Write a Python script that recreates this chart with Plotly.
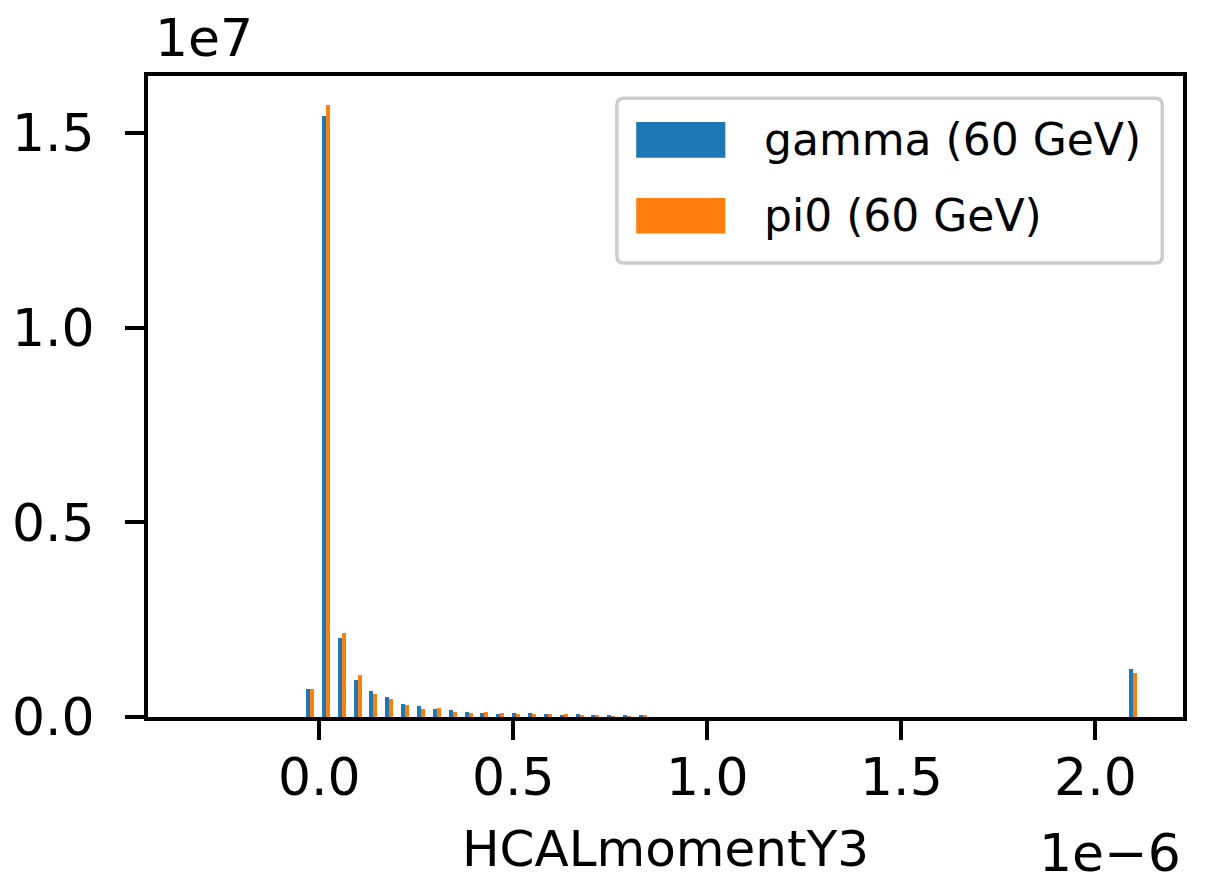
import plotly.graph_objects as go

# Histogram of HCALmomentY3 for two particle samples (bin centres in units of 1e-6)
bin_centers = [-0.024, 0.017, 0.058, 0.099, 0.139, 0.180, 0.221, 0.262, 0.303,
               0.344, 0.385, 0.425, 0.466, 0.507, 0.548, 0.589, 0.630, 0.671,
               0.711, 0.752, 0.793, 0.834, 2.096]

gamma_counts = [730000, 15450000, 2040000, 960000, 680000, 520000, 340000, 270000,
                210000, 190000, 140000, 110000, 86000, 110000, 110000, 86000,
                60000, 86000, 60000, 50000, 50000, 50000, 1240000]

pi0_counts = [730000, 15730000, 2170000, 1090000, 600000, 450000, 320000, 210000,
              240000, 140000, 110000, 140000, 110000, 86000, 86000, 86000,
              86000, 60000, 60000, 20000, 20000, 50000, 1140000]

series_names = ["gamma (60 GeV)", "pi0 (60 GeV)"]
series_colors = ["#1f77b4", "#ff7f0e"]

x_tick_labels = ["0.0", "0.5", "1.0", "1.5", "2.0"]
y_tick_labels = ["0.0", "0.5", "1.0", "1.5"]

X_SCALE = 1e-6
Y_SCALE = 1e7

x_vals = [c * X_SCALE for c in bin_centers]
bar_w = 0.0103 * X_SCALE  # each sample's bar, side by side in a bin

FONT = "DejaVu Sans"

fig = go.Figure()
for i, (name, counts, color) in enumerate(zip(series_names,
                                               [gamma_counts, pi0_counts],
                                               series_colors)):
    fig.add_trace(go.Bar(
        x=x_vals, y=counts, name=name,
        width=[bar_w] * len(x_vals),
        offset=(i - 1) * bar_w,
        marker=dict(color=color, line=dict(width=0)),
        showlegend=False,
    ))

L, R, T, B = 148, 31, 76, 161
W, H = 1214, 878

axis_common = dict(
    showline=True, linecolor="black", linewidth=4, mirror=True,
    ticks="outside", ticklen=19, tickwidth=4, tickcolor="black",
    showgrid=False, zeroline=False, automargin=False,
    tickfont=dict(family=FONT, size=52, color="black"),
)

fig.update_layout(
    width=W, height=H,
    margin=dict(l=L, r=R, t=T, b=B, pad=0),
    paper_bgcolor="white", plot_bgcolor="white",
    bargap=0, barmode="overlay",
    xaxis=dict(
        range=[-0.4413 * X_SCALE, 2.2257 * X_SCALE],
        tickvals=[float(t) * X_SCALE for t in x_tick_labels],
        ticktext=x_tick_labels,
        ticklabelstandoff=-7,
        title=dict(text="HCALmomentY3", standoff=43,
                   font=dict(family=FONT, size=50, color="black")),
        **axis_common,
    ),
    yaxis=dict(
        range=[0, 1.647 * Y_SCALE],
        tickvals=[float(t) * Y_SCALE for t in y_tick_labels],
        ticktext=y_tick_labels,
        ticklabelstandoff=20,
        **axis_common,
    ),
)

# axis offset (scale) labels
fig.add_annotation(text="1e7", xref="paper", yref="paper", x=0.0045, y=1.009,
                   xanchor="left", yanchor="bottom", showarrow=False,
                   font=dict(family=FONT, size=52, color="black"))
fig.add_annotation(text="1e\u22126", xref="paper", yref="paper", x=1.0, y=-0.2116,
                   xanchor="right", yanchor="middle", valign="middle",
                   height=46, showarrow=False,
                   font=dict(family=FONT, size=52, color="black"))

# legend frame with rounded corners
x0, x1, y0, y1 = 0.4530, 0.9800, 0.7084, 0.9651
rx, ry = 0.0068, 0.0109
frame = (f"M {x0+rx},{y0} L {x1-rx},{y0} Q {x1},{y0} {x1},{y0+ry} "
         f"L {x1},{y1-ry} Q {x1},{y1} {x1-rx},{y1} L {x0+rx},{y1} "
         f"Q {x0},{y1} {x0},{y1-ry} L {x0},{y0+ry} Q {x0},{y0} {x0+rx},{y0} Z")
fig.add_shape(type="path", path=frame, xref="paper", yref="paper",
              fillcolor="rgba(255,255,255,0.8)",
              line=dict(color="#cccccc", width=3.5), layer="above")

patch_rows = [(0.8726, 0.9283), (0.7544, 0.8098)]
for (py0, py1), name, color in zip(patch_rows, series_names, series_colors):
    fig.add_shape(type="rect", xref="paper", yref="paper",
                  x0=0.4717, x1=0.5578, y0=py0, y1=py1,
                  fillcolor=color, line=dict(width=0), layer="above")
    fig.add_annotation(text=name, xref="paper", yref="paper",
                       x=0.5936, y=(py0 + py1) / 2 + 0.001,
                       xanchor="left", yanchor="middle", showarrow=False,
                       font=dict(family=FONT, size=44, color="black"))

fig.write_html("out.html")
